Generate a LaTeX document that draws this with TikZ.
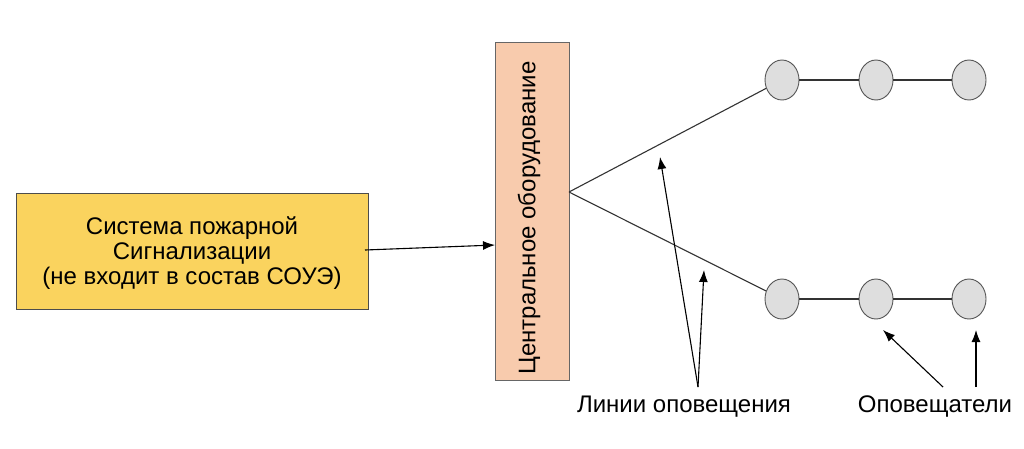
\documentclass[tikz,border=0pt]{standalone}
\usepackage{fontspec}
\setmainfont{Liberation Sans}
\usetikzlibrary{arrows.meta,shapes.geometric}
\definecolor{yel}{HTML}{FAD35E}
\definecolor{peach}{HTML}{F8CBAD}
\definecolor{cgray}{HTML}{DEDEDE}
\definecolor{cline}{HTML}{555555}
\begin{document}
\begin{tikzpicture}[x=1pt,y=-1pt,
  txt/.style={font=\fontsize{24}{25}\selectfont},
  yelbox/.style={draw=black!70,fill=yel,line width=0.8pt,minimum width=352pt,minimum height=116pt,align=center,inner sep=0pt},
  peachbox/.style={draw=black!60,fill=peach,line width=0.8pt,minimum width=74pt,minimum height=338pt,inner sep=0pt},
  spk/.style={ellipse,draw=cline,fill=cgray,line width=0.9pt,minimum width=34pt,minimum height=40pt,inner sep=0pt},
  wire/.style={draw=black!80,line width=1.1pt},
  arr/.style={draw=black,line width=1.1pt,-{Latex[length=12pt,width=9pt]}}]
\useasboundingbox (0,0) rectangle (1024,448);
\node[yelbox] (fas) at (192,251) {};
\node[txt,align=center] (fast) at (192,253) {Система пожарной\\Сигнализации\\(не входит в состав СОУЭ)};
\node[peachbox] (ce) at (532,211) {};
\node[txt,rotate=90] (cet) at (529,218) {Центральное оборудование};
\coordinate (apex) at (569,192);
\node[spk] (t1) at (782,80) {};
\node[spk] (t2) at (876,80) {};
\node[spk] (t3) at (969,80) {};
\node[spk] (b1) at (782,299) {};
\node[spk] (b2) at (876,299) {};
\node[spk] (b3) at (969,299) {};
\draw[wire] (apex) -- (t1);
\draw[wire] (apex) -- (b1);
\draw[wire] (t1) -- (t2);
\draw[wire] (t2) -- (t3);
\draw[wire] (b1) -- (b2);
\draw[wire] (b2) -- (b3);
\coordinate (fasout) at (365,250);
\coordinate (cein) at (495,245);
\draw[arr] (fasout) -- (cein);
\node[txt] (ll) at (684,407) {Линии оповещения};
\node[txt] (op) at (935,407) {Оповещатели};
\coordinate (llfoot) at (698,387);
\coordinate (lltip1) at (660,157);
\coordinate (lltip2) at (704,270);
\draw[arr] (llfoot) -- (lltip1);
\draw[arr] (llfoot) -- (lltip2);
\coordinate (opfoot1) at (943,387);
\coordinate (opfoot2) at (976,387);
\coordinate (optip1) at (883,330);
\coordinate (optip2) at (976,330);
\draw[arr] (opfoot1) -- (optip1);
\draw[arr] (opfoot2) -- (optip2);
\end{tikzpicture}
\end{document}
